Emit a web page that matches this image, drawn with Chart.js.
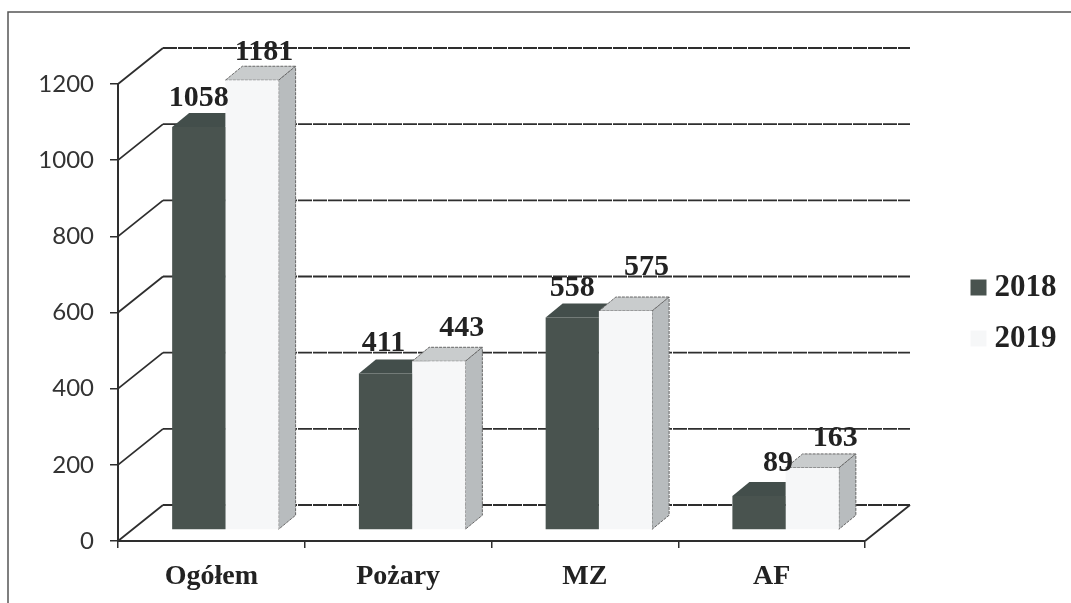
<!DOCTYPE html>
<html><head><meta charset="utf-8">
<style>html,body{margin:0;padding:0;background:#fff}canvas{display:block}</style>
<script src="https://cdn.jsdelivr.net/npm/chart.js@4/dist/chart.umd.js"></script>
</head><body><canvas id="c" width="1071" height="603"></canvas>
<script>
const categories = ['Ogółem', 'Pożary', 'MZ', 'AF'];
const seriesNames = ['2018', '2019'];
const values2018 = [1058, 411, 558, 89];
const values2019 = [1181, 443, 575, 163];

const SERIF = '"Liberation Serif", serif';
const style = {
  ink: '#2e2e2e', frame: '#555',
  front: ['#49534f', '#f6f7f8'], top: ['#434e4b', '#c9cccd'], side: ['#434e4b', '#b8bcbe'],
  wall: {dx: 45, dy: -36}, bar: {dx: 14, dy: -11}, depth: {dx: 17, dy: -14},
  // hand-placed label nudges of the source, per series and category
  nudgeX: [[0, -2, 0, 19], [12, 23, 21, 23]],
  nudgeY: [[-15, -16, -15, -19], [-14, -19, -30, -16]]
};

function poly(ctx, pts, fill, stroke) {
  ctx.beginPath();
  pts.forEach((p, i) => i ? ctx.lineTo(p[0], p[1]) : ctx.moveTo(p[0], p[1]));
  ctx.closePath();
  ctx.fillStyle = fill; ctx.fill();
  if (stroke) { ctx.strokeStyle = stroke; ctx.lineWidth = 1; ctx.setLineDash([3, 1]); ctx.stroke(); ctx.setLineDash([]); }
}

const scene = {
  id: 'scene',
  beforeLayout(chart) {
    const l = chart.legend;
    if (!l._fixed) { const f = l.fit; l.fit = function () { f.call(this); this.width = 206; }; l._fixed = true; }
  },
  afterLayout(chart) { chart.legend.left = 958; chart.legend.top = 252; },
  beforeDraw(chart) {
    const ctx = chart.ctx;
    ctx.save();
    ctx.strokeStyle = style.frame; ctx.lineWidth = 1.5;
    ctx.beginPath(); ctx.moveTo(8, 603); ctx.lineTo(8, 12); ctx.lineTo(1071, 12); ctx.stroke();
    ctx.restore();
  },
  beforeDatasetsDraw(chart) {
    const ctx = chart.ctx, x = chart.scales.x, y = chart.scales.y, w = style.wall, b = style.bar, d = style.depth;
    ctx.save();
    ctx.strokeStyle = style.ink; ctx.lineWidth = 1.8;
    y.ticks.forEach(t => {
      const py = y.getPixelForValue(t.value);
      ctx.setLineDash([]);
      ctx.beginPath(); ctx.moveTo(x.left, py); ctx.lineTo(x.left + w.dx, py + w.dy); ctx.stroke();
      ctx.setLineDash([14, 1]);
      ctx.beginPath(); ctx.moveTo(x.left + w.dx, py + w.dy); ctx.lineTo(x.right + w.dx, py + w.dy); ctx.stroke();
    });
    ctx.setLineDash([]);
    const y0 = y.getPixelForValue(0);
    ctx.beginPath(); ctx.moveTo(x.right, y0); ctx.lineTo(x.right + w.dx, y0 + w.dy); ctx.stroke();
    ctx.translate(b.dx, b.dy);
    chart.data.datasets.forEach((ds, s) => {
      chart.getDatasetMeta(s).data.forEach(el => {
        const l = el.x - el.width / 2, r = el.x + el.width / 2, t = el.y, u = el.base;
        const edge = s ? '#666' : null;
        poly(ctx, [[l, t], [l + d.dx, t + d.dy], [r + d.dx, t + d.dy], [r, t]], style.top[s], edge);
        poly(ctx, [[r, t], [r + d.dx, t + d.dy], [r + d.dx, u + d.dy], [r, u]], style.side[s], edge);
      });
    });
    ctx.restore();
    ctx.save();
    ctx.translate(b.dx, b.dy);
  },
  afterDatasetsDraw(chart) {
    const ctx = chart.ctx;
    ctx.restore();
    ctx.save();
    ctx.font = 'bold 30px ' + SERIF;
    ctx.fillStyle = '#222'; ctx.textAlign = 'center'; ctx.textBaseline = 'middle';
    chart.data.datasets.forEach((ds, s) => {
      chart.getDatasetMeta(s).data.forEach((el, i) => {
        ctx.fillText(ds.data[i], el.x + style.bar.dx + style.nudgeX[s][i], el.y + style.bar.dy + style.depth.dy + style.nudgeY[s][i]);
      });
    });
    ctx.restore();
  }
};

new Chart(document.getElementById('c'), {
  type: 'bar',
  data: {
    labels: categories,
    datasets: [
      {label: seriesNames[0], data: values2018, backgroundColor: style.front[0], borderWidth: 0},
      {label: seriesNames[1], data: values2019, backgroundColor: style.front[1], borderWidth: 0}
    ]
  },
  options: {
    responsive: false, animation: false,
    categoryPercentage: 0.57, barPercentage: 1,
    layout: {padding: {top: 84, left: 0, right: 0, bottom: 0}},
    plugins: {
      tooltip: {enabled: false},
      legend: {
        position: 'right', align: 'start',
        labels: {
          boxWidth: 1, boxHeight: 1, padding: 20, color: '#222',
          font: {family: SERIF, weight: 'bold', size: 31},
          generateLabels(chart) {
            return Chart.defaults.plugins.legend.labels.generateLabels(chart).map(it =>
              Object.assign(it, {strokeStyle: it.fillStyle, lineWidth: 15}));
          }
        }
      }
    },
    scales: {
      x: {
        afterFit(s) { s.height = 62; },
        grid: {drawOnChartArea: false, color: style.ink, tickLength: 7, lineWidth: 1.5},
        border: {color: style.ink, width: 2},
        ticks: {color: '#222', padding: 12, maxRotation: 0, font: {family: SERIF, weight: 'bold', size: 28}}
      },
      y: {
        min: 0, max: 1200,
        afterFit(s) { s.width = 118; },
        grid: {drawOnChartArea: false, color: style.ink, tickLength: 8, lineWidth: 1.5},
        border: {color: style.ink, width: 2},
        ticks: {stepSize: 200, color: '#333', padding: 16, font: {family: 'Lato, sans-serif', size: 24},
          callback: v => String(v)}
      }
    }
  },
  plugins: [scene]
});
</script></body></html>
